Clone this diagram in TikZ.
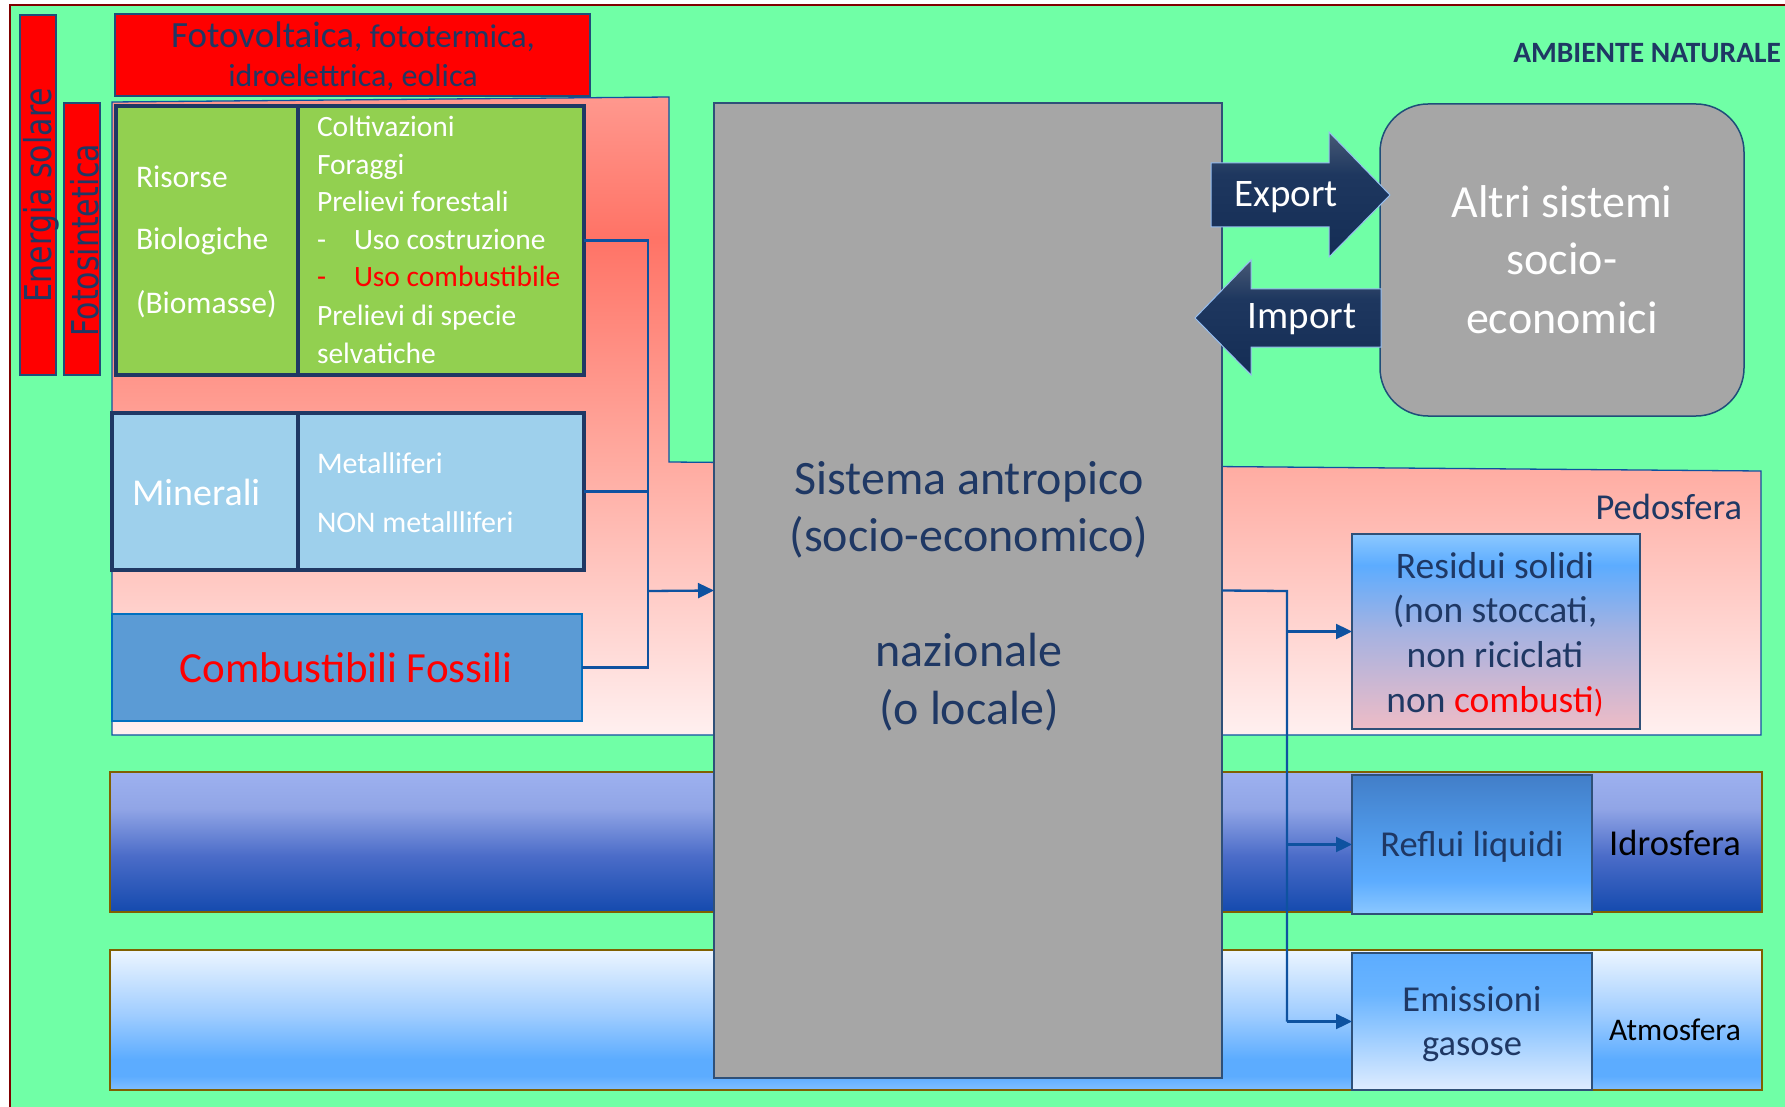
\documentclass[tikz,border=0pt]{standalone}
\usepackage{fontspec}
\setmainfont{Carlito}
\newfontfamily\barfont{DejaVu Sans}
\usetikzlibrary{arrows.meta}

% palette
\definecolor{bggreen}{RGB}{112,255,166}
\definecolor{framered}{RGB}{128,0,0}
\definecolor{navy}{RGB}{31,56,100}
\definecolor{edgeblue}{RGB}{31,78,121}
\definecolor{wirec}{RGB}{14,82,160}
\definecolor{leaf}{RGB}{146,208,80}
\definecolor{ore}{RGB}{158,208,236}
\definecolor{fossil}{RGB}{91,155,213}
\definecolor{fossiledge}{RGB}{0,112,192}
\definecolor{stone}{RGB}{166,166,166}
\definecolor{stoneedge}{RGB}{47,80,120}
\definecolor{bandedge}{RGB}{128,96,0}
\definecolor{arrowedge}{RGB}{150,190,240}

% soil / lithosphere gradient
\definecolor{pkA}{RGB}{255,152,142}
\definecolor{pkB}{RGB}{255,115,102}
\definecolor{pkC}{RGB}{255,172,162}
\definecolor{pkD}{RGB}{255,240,240}
% water
\definecolor{wtA}{RGB}{157,177,239}
\definecolor{wtB}{RGB}{145,165,230}
\definecolor{wtC}{RGB}{75,108,200}
\definecolor{wtD}{RGB}{20,74,174}
% air
\definecolor{arA}{RGB}{236,245,255}
\definecolor{arB}{RGB}{160,205,255}
\definecolor{arC}{RGB}{92,172,255}
\definecolor{arD}{RGB}{128,190,255}
% output boxes
\definecolor{sdA}{RGB}{140,200,255}
\definecolor{sdB}{RGB}{92,172,255}
\definecolor{sdC}{RGB}{165,178,225}
\definecolor{sdD}{RGB}{238,188,198}
\definecolor{lqA}{RGB}{66,126,200}
\definecolor{lqB}{RGB}{80,155,235}
\definecolor{lqC}{RGB}{92,172,255}
\definecolor{lqD}{RGB}{140,200,255}
\definecolor{gsA}{RGB}{92,172,255}
\definecolor{gsB}{RGB}{105,180,255}
\definecolor{gsC}{RGB}{222,236,255}
% trade arrows
\definecolor{trA}{RGB}{72,90,118}
\definecolor{trB}{RGB}{30,55,95}
\definecolor{trC}{RGB}{20,45,85}

\pgfdeclareverticalshading{shLitho}{100bp}{color(0bp)=(pkD); color(25bp)=(pkD); color(46bp)=(pkC); color(64bp)=(pkB); color(75bp)=(pkA); color(100bp)=(pkA)}
\pgfdeclareverticalshading{shWater}{100bp}{color(0bp)=(wtD); color(25bp)=(wtD); color(45bp)=(wtC); color(62bp)=(wtB); color(75bp)=(wtA); color(100bp)=(wtA)}
\pgfdeclareverticalshading{shAir}{100bp}{color(0bp)=(arD); color(25bp)=(arD); color(30bp)=(arC); color(36bp)=(arC); color(52bp)=(arB); color(75bp)=(arA); color(100bp)=(arA)}
\pgfdeclareverticalshading{shSolid}{100bp}{color(0bp)=(sdD); color(25bp)=(sdD); color(50bp)=(sdC); color(67bp)=(sdB); color(75bp)=(sdA); color(100bp)=(sdA)}
\pgfdeclareverticalshading{shLiquid}{100bp}{color(0bp)=(lqD); color(25bp)=(lqD); color(37bp)=(lqC); color(52bp)=(lqB); color(75bp)=(lqA); color(100bp)=(lqA)}
\pgfdeclareverticalshading{shGas}{100bp}{color(0bp)=(gsC); color(25bp)=(gsC); color(60bp)=(gsB); color(75bp)=(gsA); color(100bp)=(gsA)}
\pgfdeclareverticalshading{shTrade}{100bp}{color(0bp)=(trC); color(25bp)=(trC); color(58bp)=(trB); color(75bp)=(trA); color(100bp)=(trA)}

\tikzset{
  box/.style={inner sep=0pt, outer sep=0pt, anchor=north west},
  cell/.style={box, draw=navy, line width=3.2pt},
  txt/.style={inner sep=0pt, outer sep=0pt},
  wire/.style={draw=wirec, line width=2.3pt},
  feed/.style={wire, -{Triangle[length=16pt,width=15pt]}},
  band/.style={box, draw=bandedge, line width=2.5pt},
  outbox/.style={box, draw=stoneedge, line width=2.5pt},
  trade/.style={shading=shTrade, draw=arrowedge, line width=1pt},
}

\begin{document}
\begin{tikzpicture}[x=1pt,y=-1pt]
\useasboundingbox (0,0) rectangle (1785,1107);

% natural environment
\fill[white] (0,0) rectangle (1785,1107);
\fill[bggreen] (10,5) rectangle (1785,1107);
\draw[framered, line width=2pt] (10,1107) -- (10,5) -- (1785,5);
\node[txt, anchor=base east, text=navy, font=\fontsize{29.5}{35}\selectfont\bfseries] (amb) at (1781,63) {AMBIENTE NATURALE};

% lithosphere / pedosphere field
\path[shading=shLitho, draw=wirec, line width=1.3pt]
  (112,102) -- (669,97) -- (669,462) -- (1761,471) -- (1761,735) -- (112,735) -- cycle;

% hydrosphere and atmosphere bands
\node[band, shading=shWater, minimum width=1652, minimum height=140] (hydro) at (110,772) {};
\node[band, shading=shAir, minimum width=1652, minimum height=140] (atmo) at (110,950) {};

% solar energy bars
\node[box, fill=red, draw=edgeblue, line width=2.5pt, minimum width=36, minimum height=360] (solar) at (20,15) {};
\node[box, fill=red, draw=edgeblue, line width=2.5pt, minimum width=36, minimum height=272] (photo) at (64,103) {};
\node[txt, rotate=90, anchor=base, text=navy, font=\barfont\fontsize{37}{44}\selectfont] (solart) at (51,195) {\scalebox{0.81}[1]{Energia solare}};
\node[txt, rotate=90, anchor=base, text=navy, font=\barfont\fontsize{37}{44}\selectfont] (photot) at (98,240) {\scalebox{0.81}[1]{Fotosintetica}};

% renewable sources
\node[box, fill=red, draw=edgeblue, line width=2.5pt, minimum width=475, minimum height=82] (renew) at (115,14) {};
\node[txt, anchor=base, text=navy] (renew1) at (353,48) {{\fontsize{37}{44}\selectfont Fotovoltaica}{\fontsize{33}{40}\selectfont , fototermica,}};
\node[txt, anchor=base, text=navy, font=\fontsize{32}{38}\selectfont] (renew2) at (353,87) {idroelettrica, eolica};

% biological resources
\node[cell, fill=leaf, minimum width=182, minimum height=269] (bioL) at (116,106) {};
\node[cell, fill=leaf, minimum width=286, minimum height=269] (bioR) at (298,106) {};
\begin{scope}[every node/.style={txt, anchor=base west, text=white, font=\fontsize{31.5}{38}\selectfont}]
  \node (b1) at (136,188) {Risorse};
  \node (b2) at (136,250) {Biologiche};
  \node (b3) at (136,313) {(Biomasse)};
\end{scope}
\begin{scope}[every node/.style={txt, anchor=base west, text=white, font=\fontsize{29.5}{35}\selectfont}]
  \node (r1) at (317,137) {Coltivazioni};
  \node (r2) at (317,175) {Foraggi};
  \node (r3) at (317,212) {Prelievi forestali};
  \node (r4a) at (317,250) {-};
  \node (r4) at (354,250) {Uso costruzione};
  \node[text=red] (r5a) at (317,287) {-};
  \node[text=red] (r5) at (354,287) {Uso combustibile};
  \node (r6) at (317,325) {Prelievi di specie};
  \node (r7) at (317,363) {selvatiche};
\end{scope}

% minerals
\node[cell, fill=ore, minimum width=186, minimum height=157] (minL) at (112,413) {};
\node[cell, fill=ore, minimum width=286, minimum height=157] (minR) at (298,413) {};
\node[txt, anchor=base west, text=white, font=\fontsize{38}{45}\selectfont] (m0) at (132,505) {Minerali};
\node[txt, anchor=base west, text=white, font=\fontsize{30}{36}\selectfont] (m1) at (317,473) {Metalliferi};
\node[txt, anchor=base west, text=white, font=\fontsize{30}{36}\selectfont] (m2) at (317,532) {NON metallliferi};

% fossil fuels
\node[box, fill=fossil, draw=fossiledge, line width=2.5pt, minimum width=470, minimum height=107] (fos) at (112,614) {};
\node[txt, anchor=base, text=red, font=\fontsize{43}{51}\selectfont] (fost) at (346,682) {Combustibili Fossili};

% inputs to the anthropic system
\coordinate (lbus) at (648,591);
\draw[wire] (bioR.east) -| (lbus);
\draw[wire] (fos.east) -| (lbus);
\draw[wire] (minR.east) -- (minR.east -| lbus);

% anthropic system
\node[box, fill=stone, draw=stoneedge, line width=2.5pt, minimum width=508, minimum height=975] (sys) at (714,103) {};
\draw[feed] (lbus) -- (sys.west);
\begin{scope}[every node/.style={txt, anchor=base, text=navy, font=\fontsize{48}{58}\selectfont}]
  \node (s1) at (969,494) {Sistema antropico};
  \node (s2) at (969,551) {(socio-economico)};
  \node (s3) at (969,666) {nazionale};
  \node (s4) at (969,724) {(o locale)};
\end{scope}

% outputs
\node[txt, anchor=base east, text=navy, font=\fontsize{36.5}{44}\selectfont] (pedo) at (1742,519) {Pedosfera};
\node[outbox, shading=shSolid, minimum width=288, minimum height=195] (res) at (1352,534) {};
\node[outbox, shading=shLiquid, minimum width=240, minimum height=139] (ref) at (1352,775) {};
\node[outbox, shading=shGas, minimum width=240, minimum height=137] (emi) at (1352,953) {};

\coordinate (rbus) at (1287,591);
\draw[wire] (sys.east) -- (rbus) -- (rbus |- emi.west);
\draw[feed] (rbus |- res.west) -- (res.west);
\draw[feed] (rbus |- ref.west) -- (ref.west);
\draw[feed] (rbus |- emi.west) -- (emi.west);

\begin{scope}[every node/.style={txt, anchor=base, text=navy, font=\fontsize{37.5}{45}\selectfont}]
  \node (o1) at (1495,578) {Residui solidi};
  \node (o2) at (1495,622) {(non stoccati,};
  \node (o3) at (1495,667) {non riciclati};
  \node (o4) at (1495,712) {non \textcolor{red}{combusti{\fontsize{32}{38}\selectfont)}}};
\end{scope}
\begin{scope}[every node/.style={txt, anchor=base, text=navy, font=\fontsize{36.5}{44}\selectfont}]
  \node (l1) at (1472,856) {Reflui liquidi};
  \node (g1) at (1472,1011) {Emissioni};
  \node (g2) at (1472,1055) {gasose};
\end{scope}
\node[txt, anchor=base, text=black, font=\fontsize{36.5}{44}\selectfont] (hydt) at (1675,855) {Idrosfera};
\node[txt, anchor=base, text=black, font=\fontsize{31.5}{38}\selectfont] (atmt) at (1675,1040) {Atmosfera};

% other socio-economic systems and trade
\node[box, fill=stone, draw=edgeblue, line width=1.5pt, rounded corners=48pt, minimum width=364, minimum height=312] (altri) at (1380,104) {};
\begin{scope}[every node/.style={txt, anchor=base, text=white, font=\fontsize{46}{55}\selectfont}]
  \node (a1) at (1562,218) {Altri sistemi};
  \node (a2) at (1562,275) {socio-};
  \node (a3) at (1562,333) {economici};
\end{scope}
\path[trade] (1211,163) -- (1329,163) -- (1329,132) -- (1390,195) -- (1329,257) -- (1329,227) -- (1211,227) -- cycle;
\path[trade] (1381,289) -- (1251,289) -- (1251,260) -- (1195,318) -- (1251,375) -- (1251,347) -- (1381,347) -- cycle;
\node[txt, anchor=base, text=white, font=\fontsize{39}{47}\selectfont] (exp) at (1286,207) {Export};
\node[txt, anchor=base, text=white, font=\fontsize{39}{47}\selectfont] (imp) at (1302,328) {Import};

\end{tikzpicture}
\end{document}
